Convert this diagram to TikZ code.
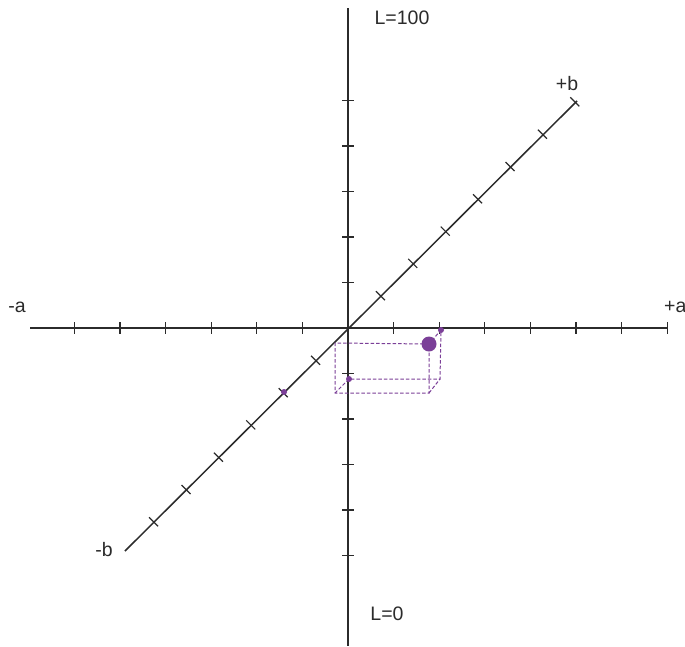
\documentclass[tikz,border=0pt]{standalone}
\usepackage{fontspec}
\setmainfont{Liberation Sans}
\definecolor{axis}{HTML}{2B2B2B}
\definecolor{purp}{HTML}{7B3F98}
\begin{document}
\begin{tikzpicture}[x=1pt,y=-1pt,
  axisline/.style={draw=axis,line width=1.5pt},
  tickline/.style={draw=axis,line width=1.2pt},
  boxline/.style={draw=purp,line width=1pt,dash pattern=on 3.5pt off 2pt},
  lbl/.style={font=\fontsize{19.5}{19.5}\selectfont,text=axis,inner sep=0pt},
  pmark/.style={circle,fill=purp,inner sep=0pt,minimum size=6pt}]
\useasboundingbox[fill=white] (0,0) rectangle (685,646);
% axes endpoints
\coordinate (O) at (348,328);
\coordinate (aL) at (30,328);
\coordinate (aR) at (668,328);
\coordinate (LT) at (348,8);
\coordinate (LB) at (348,646);
\coordinate (bL) at (125,551);
\coordinate (bU) at (577,101);
\draw[axisline] (aL) -- (aR);
\draw[axisline] (LT) -- (LB);
\draw[axisline] (bL) -- (bU);
% ticks on a axis
\foreach \i in {-6,...,-1,1,2,...,7}
  \draw[tickline] (348+45.6*\i,322) -- (348+45.6*\i,334);
% ticks on L axis
\foreach \i in {-5,...,-1,1,2,...,5}
  \draw[tickline] (342,328+45.5*\i) -- (354,328+45.5*\i);
% ticks on b axis
\foreach \i in {-6,...,-1,1,2,...,7}
  \draw[tickline] (348+32.4*\i-4.5,328-32.3*\i-4.5) -- (348+32.4*\i+4.5,328-32.3*\i+4.5);
% box
\coordinate (P) at (429,344);
\coordinate (fTL) at (335,343);
\coordinate (fBL) at (335,393);
\coordinate (fBR) at (429,393);
\coordinate (kBL) at (349,379);
\coordinate (kBR) at (440,379);
\coordinate (kTR) at (441,330);
\draw[boxline] (P) -- (fTL) -- (fBL) -- (fBR) -- (P) -- (kTR) -- (kBR) -- (kBL) -- (fBL);
\draw[boxline] (fBR) -- (kBR);
% markers
\node[circle,fill=purp,inner sep=0pt,minimum size=15pt] (dot) at (P) {};
\node[pmark] (ma) at (kTR) {};
\node[pmark] (mL) at (kBL) {};
\node[pmark] (mb) at (284,392) {};
% labels
\node[lbl] (t1) at (402,18) {L=100};
\node[lbl] (t2) at (387,614) {L=0};
\node[lbl] (t3) at (17,307) {-a};
\node[lbl,anchor=west] (t4) at (664,307) {+a};
\node[lbl] (t5) at (567,84) {+b};
\node[lbl] (t6) at (104,550) {-b};
\end{tikzpicture}
\end{document}
